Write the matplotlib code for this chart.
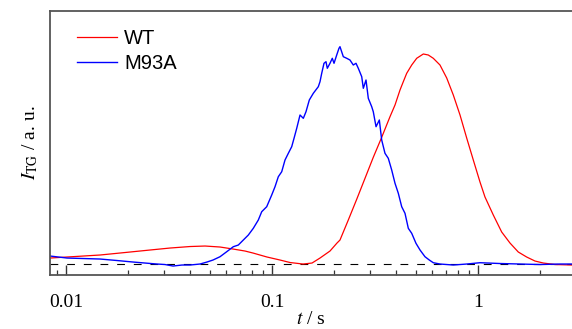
import matplotlib
matplotlib.use("Agg")
import matplotlib.pyplot as plt
from matplotlib.ticker import LogLocator, NullFormatter

plt.rcParams['font.family'] = ['Liberation Serif', 'DejaVu Serif']
plt.rcParams['mathtext.fontset'] = 'stix'

# WT (red) trace
wt_t = [0.008363, 0.011058, 0.014622, 0.019336, 0.02557, 0.03199, 0.03999, 0.04730,
        0.05592, 0.06467, 0.07393, 0.08085, 0.09456, 0.10935, 0.12229, 0.14145,
        0.15641, 0.1710, 0.1912, 0.20677, 0.2138, 0.2346, 0.2577, 0.2828, 0.3102,
        0.3408, 0.3739, 0.3955, 0.4182, 0.4339, 0.4507, 0.4767, 0.5040, 0.5427,
        0.5737, 0.6067, 0.6538, 0.7049, 0.7588, 0.8179, 0.8812, 0.9489, 1.0226,
        1.0813, 1.1866, 1.3032, 1.430, 1.569, 1.723, 1.891, 2.075, 2.365, 2.860]
wt_v = [0.0284, 0.0355, 0.0427, 0.0545, 0.0664, 0.0758, 0.0829, 0.0853,
        0.0806, 0.0711, 0.0616, 0.0521, 0.0332, 0.0190, 0.0071, 0.0,
        0.0047, 0.0284, 0.0616, 0.0995, 0.1137, 0.2085, 0.3066, 0.4062, 0.5057,
        0.6005, 0.6981, 0.7536, 0.8246, 0.8640, 0.9038, 0.9431, 0.9749, 0.9953,
        0.9905, 0.9749, 0.9431, 0.8815, 0.8009, 0.7062, 0.5972, 0.4929, 0.3886,
        0.3175, 0.2322, 0.1517, 0.0995, 0.0569, 0.0332, 0.0142, 0.0047, -0.0024, -0.0047]

# M93A (blue) trace
m93a_t = [0.008363, 0.010112, 0.012090, 0.014622, 0.017680, 0.02114, 0.02418, 0.02764,
          0.03024, 0.03307, 0.03657, 0.03999, 0.04472, 0.04836, 0.05171, 0.05592,
          0.06027, 0.06487, 0.06861, 0.07256, 0.07674, 0.08112, 0.08580, 0.08913,
          0.09425, 0.09966, 0.10342, 0.10730, 0.11146, 0.11564, 0.12000, 0.12463,
          0.12790, 0.13181, 0.13677, 0.14191, 0.14622, 0.15174, 0.15867, 0.16780,
          0.1710, 0.17430, 0.17880, 0.18285, 0.18552, 0.1912, 0.19618, 0.2000,
          0.20612, 0.2114, 0.2138, 0.2219, 0.2305, 0.2390, 0.2481, 0.2557, 0.2624,
          0.2726, 0.2775, 0.2860, 0.2934, 0.3048, 0.3102, 0.3199, 0.3319, 0.3408,
          0.3536, 0.3669, 0.3811, 0.3955, 0.4104, 0.4262, 0.4422, 0.4589, 0.4767,
          0.5000, 0.5231, 0.5529, 0.5802, 0.6067, 0.6538, 0.7588, 0.8812, 1.0226,
          1.279, 1.599, 2.0, 2.501, 2.86]
m93a_v = [0.0379, 0.0284, 0.0261, 0.0237, 0.0166, 0.0095, 0.0047, 0.0,
          -0.0024, -0.0095, -0.0047, -0.0047, 0.0, 0.0095, 0.0190, 0.0346,
          0.0583, 0.0820, 0.0900, 0.1137, 0.1374, 0.1692, 0.2085, 0.2479,
          0.2716, 0.3270, 0.3664, 0.4137, 0.4374, 0.4929, 0.5246, 0.5559,
          0.5957, 0.6431, 0.7062, 0.6905, 0.7218, 0.7773, 0.8090, 0.8403,
          0.8640, 0.9038, 0.9512, 0.9588, 0.9275, 0.9512, 0.9749, 0.9512,
          0.9905, 1.0223, 1.0299, 0.9825, 0.9749, 0.9668, 0.9431, 0.9512, 0.9275,
          0.8877, 0.8327, 0.8720, 0.7853, 0.7455, 0.7218, 0.6507, 0.6825, 0.5877,
          0.5246, 0.5009, 0.4455, 0.3825, 0.3351, 0.2716, 0.2403, 0.1692, 0.1455,
          0.0981, 0.0664, 0.0346, 0.0190, 0.0062, 0.0, -0.0047, 0.0, 0.0062,
          0.0024, 0.0, -0.0024, 0.0, 0.0]

series_labels = ['WT', 'M93A']
xtick_vals = [0.01, 0.1, 1]
xtick_labels = ['0.01', '0.1', '1']

fig = plt.figure(figsize=(5.72, 3.29), dpi=100)
ax = fig.add_axes([50/572, 1 - 275/329, 522/572, 264/329])

ax.plot(wt_t, wt_v, color='#ff0000', lw=0.9, label=series_labels[0])
ax.plot(m93a_t, m93a_v, color='#0000ff', lw=1.0, label=series_labels[1])
ax.axhline(0, color='black', lw=0.8, ls=(0, (7, 8)), zorder=1)

ax.set_xscale('log')
ax.set_xlim(0.00836, 2.86)
ax.set_ylim(-0.052, 1.199)

ax.set_xticks(xtick_vals)
ax.set_xticklabels(xtick_labels)
ax.xaxis.set_minor_locator(LogLocator(base=10, subs=range(2, 10), numticks=20))
ax.xaxis.set_minor_formatter(NullFormatter())
ax.tick_params(axis='x', which='major', direction='in', length=7, width=1.0,
               labelsize=14, pad=13.5, top=False, color='#333333')
ax.tick_params(axis='x', which='minor', direction='in', length=3.3, width=0.9,
               top=False, color='#333333')
ax.set_yticks([])

for s in ['left', 'bottom', 'top']:
    ax.spines[s].set_color('#555555')
    ax.spines[s].set_linewidth(1.3)
ax.spines['right'].set_visible(False)

ax.set_xlabel(r'$t$ / s', fontsize=14, labelpad=0.3)
ax.set_ylabel(r'$I_{\mathrm{TG}}$ / a. u.', fontsize=14, labelpad=7)

leg = ax.legend(loc='upper left', bbox_to_anchor=(0.0517, 0.930), frameon=False,
                prop={'family': 'Liberation Sans', 'size': 14.5},
                handlelength=1.99, handletextpad=0.35, labelspacing=0.27,
                borderpad=0, borderaxespad=0)

fig.savefig('out.png', dpi=100)
